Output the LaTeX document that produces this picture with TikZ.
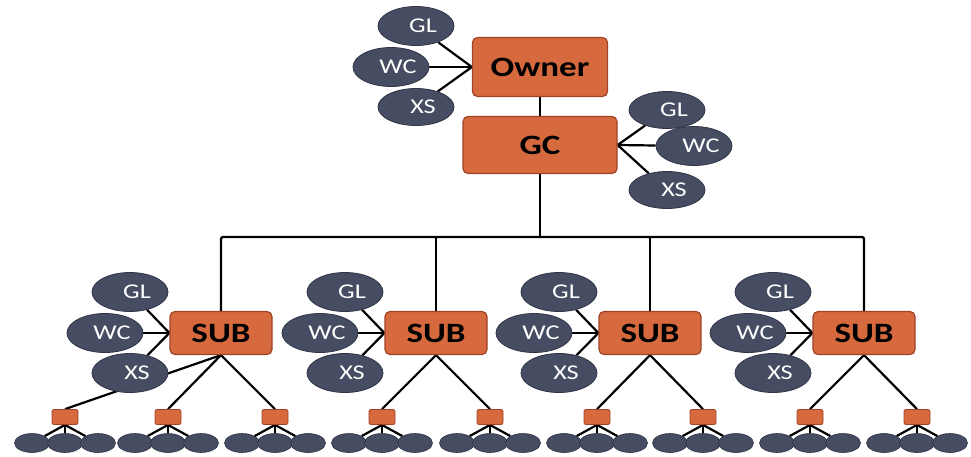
\documentclass[tikz,border=0pt]{standalone}
\usepackage{fontspec}
\setmainfont{Carlito}[FakeStretch=1.25]
\usetikzlibrary{shapes.geometric,backgrounds}
\definecolor{boxfill}{RGB}{214,106,62}
\definecolor{boxline}{RGB}{160,66,40}
\definecolor{leaffill}{RGB}{70,76,98}
\definecolor{leafline}{RGB}{48,52,70}
\tikzset{
  box/.style={draw=boxline, fill=boxfill, line width=1.2pt, rounded corners=5pt,
    inner sep=0pt, font=\fontsize{28}{30}\selectfont\bfseries},
  leaf/.style={ellipse, draw=leafline, fill=leaffill, line width=0.8pt, inner sep=0pt,
    minimum width=76pt, minimum height=39pt, text=white,
    font=\fontsize{21}{23}\selectfont, execute at begin node={\hspace{14pt}}},
  tinybox/.style={draw=boxline, fill=boxfill, line width=0.8pt, rounded corners=2pt,
    minimum width=26pt, minimum height=15pt, inner sep=0pt},
  dot/.style={ellipse, draw=leafline, fill=leaffill, line width=0.6pt,
    minimum width=35pt, minimum height=19pt, inner sep=0pt},
  wire/.style={line width=2.2pt, black}
}
\begin{document}
\begin{tikzpicture}[x=1pt, y=-1pt]
	\useasboundingbox (0,0) rectangle (971,456);
	
	% top of the chart
	\node[box, minimum width=135pt, minimum height=59pt] (owner) at (540,67) {Owner};
	\node[box, minimum width=154pt, minimum height=57pt] (gc) at (540,145) {GC};
	
	\node[leaf] (ogl) at (416,26) {GL};
	\node[leaf] (owc) at (391,67) {WC};
	\node[leaf, minimum height=37pt] (oxs) at (416,107) {XS};
	
	\node[leaf, minimum height=37pt] (ggl) at (667,110) {GL};
	\node[leaf] (gwc) at (694,146) {WC};
	\node[leaf, minimum height=37pt] (gxs) at (667,190) {XS};
	
	\coordinate (bus) at (540,237);
	
	% subcontractors
	\foreach \c [count=\i] in {221,436,650,864} {
		\node[box, minimum width=102pt, minimum height=43pt] (sub\i) at (\c,333) {SUB};
		\node[leaf] (sgl\i) at (\c-91,292) {GL};
		\node[leaf] (swc\i) at (\c-116,333) {WC};
		\node[leaf] (sxs\i) at (\c-91,373) {XS};
	}
	
	% lower tiers
	\foreach \x/\s [count=\k] in {65/1,168/1,275/1,382/2,490/2,597/3,703/3,810/4,917/4} {
		\node[tinybox] (t\k) at (\x,417) {};
		\foreach \d [count=\j] in {-33,0,33}
			\node[dot] (d\k-\j) at (\x+\d,443) {};
	}
	
	\begin{pgfonlayer}{background}
		\draw[wire] (owner) -- (gc);
		\foreach \n in {ogl,owc,oxs} \draw[wire] (\n) -- (owner.west);
		\foreach \n in {ggl,gwc,gxs} \draw[wire] (\n) -- (gc.east);
		
		\draw[wire] (gc.south) -- (bus);
		\draw[wire, rounded corners=2pt] (sub1.north) |- (bus) -| (sub4.north);
		\draw[wire] (sub2.north) -- (sub2.north |- bus);
		\draw[wire] (sub3.north) -- (sub3.north |- bus);
		
		\foreach \i in {1,...,4}
			\foreach \n in {sgl,swc,sxs} \draw[wire] (\n\i) -- (sub\i.west);
		
		\foreach \k/\s in {1/1,2/1,3/1,4/2,5/2,6/3,7/3,8/4,9/4} {
			\draw[wire] (sub\s.south) -- (t\k.north);
			\foreach \j in {1,2,3} \draw[wire] (t\k.south) -- (d\k-\j);
		}
	\end{pgfonlayer}
\end{tikzpicture}
\end{document}
